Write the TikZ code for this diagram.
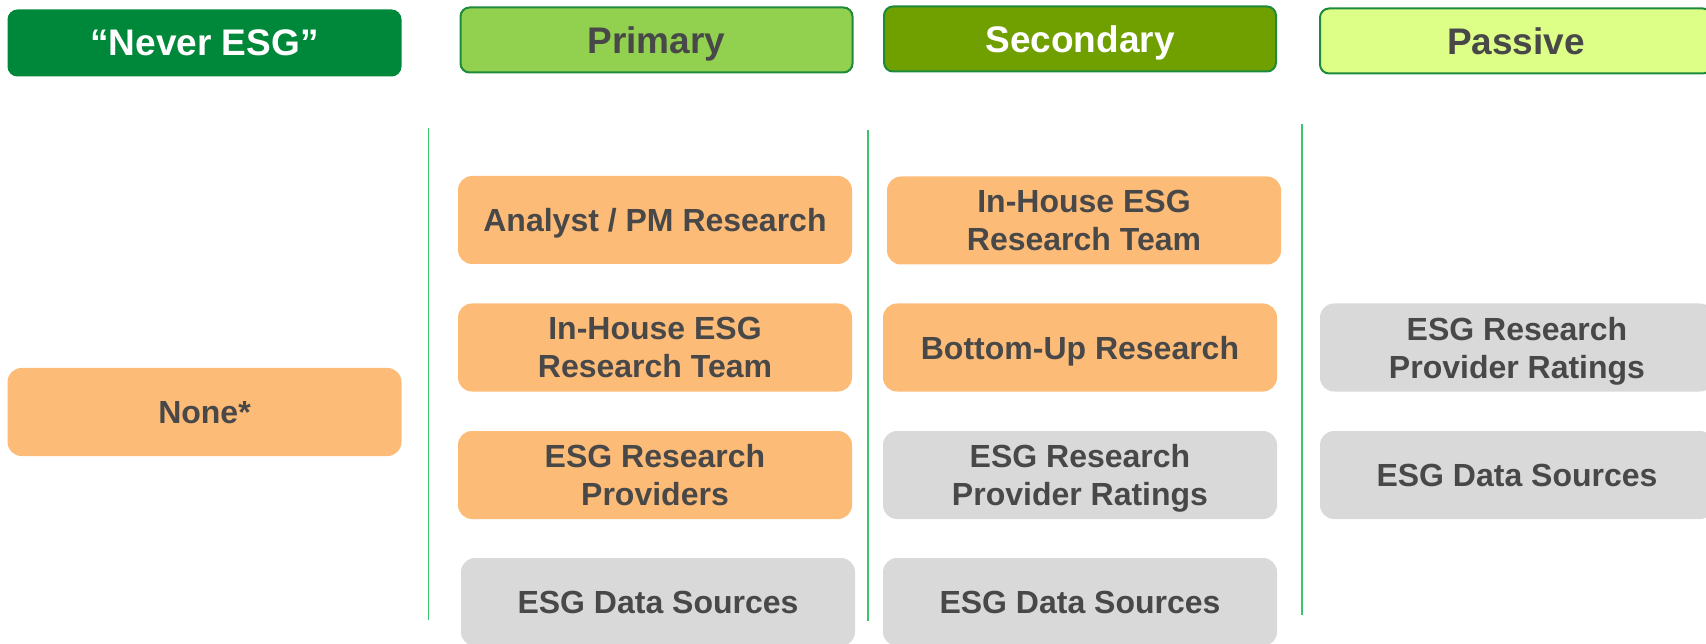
\documentclass[tikz,border=0pt]{standalone}
\usepackage{fontspec}
\setmainfont{Liberation Sans}
\definecolor{nevergreen}{HTML}{00883A}
\definecolor{primgreen}{HTML}{92D050}
\definecolor{secgreen}{HTML}{70A000}
\definecolor{passgreen}{HTML}{DDFF88}
\definecolor{rimgreen}{HTML}{1E8A3C}
\definecolor{divgreen}{HTML}{3CC46C}
\definecolor{orangebox}{HTML}{FDBB78}
\definecolor{greybox}{HTML}{D9D9D9}
\definecolor{txtgray}{HTML}{484848}

\begin{document}
\begin{tikzpicture}[x=1pt, y=-1pt,
    head/.style={draw=rimgreen, line width=2pt, rounded corners=9pt,
      minimum width=392pt, minimum height=65pt, text depth=0pt,
      font=\fontsize{37}{44}\selectfont\bfseries},
    cell/.style={rounded corners=14pt, minimum width=394pt, minimum height=88pt,
      align=center, text=txtgray, text depth=0pt,
      font=\fontsize{32}{38}\selectfont\bfseries},
    orangecell/.style={cell, fill=orangebox},
    greycell/.style={cell, fill=greybox},
    divider/.style={draw=divgreen, line width=1.5pt}]
  \useasboundingbox (0, 0) rectangle (1706, 644);
  \clip (0, 0) rectangle (1706, 644);

  % column heads
  \node[head, draw=nevergreen, fill=nevergreen, text=white] (never) at (204.5, 43) {“Never ESG”};
  \node[head, fill=primgreen, text=txtgray] (primary) at (656.5, 40) {Primary};
  \node[head, fill=secgreen, text=white] (secondary) at (1080, 39) {Secondary};
  \node[head, fill=passgreen, text=txtgray] (passive) at (1516, 41) {Passive};

  % dividers
  \draw[divider] (428.7, 128) -- (428.7, 620);
  \draw[divider] (868, 130) -- (868, 621);
  \draw[divider] (1302, 124) -- (1302, 615);

  % never esg
  \node[orangecell] (none) at (204.5, 412) {None*};

  % primary
  \node[orangecell] (analyst) at (655, 220) {Analyst / PM Research};
  \node[orangecell] (inhouseA) at (655, 347.5) {In-House ESG\\Research Team};
  \node[orangecell] (providers) at (655, 475) {ESG Research\\Providers};
  \node[greycell] (dataA) at (658, 602) {ESG Data Sources};

  % secondary
  \node[orangecell] (inhouseB) at (1084, 220.5) {In-House ESG\\Research Team};
  \node[orangecell] (bottomup) at (1080, 347.5) {Bottom-Up Research};
  \node[greycell] (ratingsB) at (1080, 475) {ESG Research\\Provider Ratings};
  \node[greycell] (dataB) at (1080, 602) {ESG Data Sources};

  % passive
  \node[greycell] (ratingsC) at (1517, 347.5) {ESG Research\\Provider Ratings};
  \node[greycell] (dataC) at (1517, 475) {ESG Data Sources};
\end{tikzpicture}
\end{document}
